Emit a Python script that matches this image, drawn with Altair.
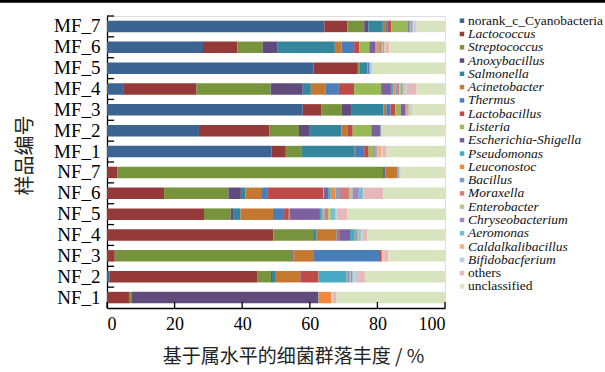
import altair as alt
import pandas as pd

# Samples, top to bottom
samples = ["MF_7", "MF_6", "MF_5", "MF_4", "MF_3", "MF_2", "MF_1",
           "NF_7", "NF_6", "NF_5", "NF_4", "NF_3", "NF_2", "NF_1"]

# Genera in stacking / legend order
genera = ["norank_c_Cyanobacteria", "Lactococcus", "Streptococcus", "Anoxybacillus",
          "Salmonella", "Acinetobacter", "Thermus", "Lactobacillus", "Listeria",
          "Escherichia-Shigella", "Pseudomonas", "Leuconostoc", "Bacillus", "Moraxella",
          "Enterobacter", "Chryseobacterium", "Aeromonas", "Caldalkalibacillus",
          "Bifidobacferium", "others", "unclassified"]

upright_names = ["norank_c_Cyanobacteria", "others", "unclassified"]

colors = ["#3B6493", "#953A38", "#77933C", "#604B7C", "#34869C", "#C5782F",
          "#4A7EBB", "#BE4B48", "#98B954", "#7D60A0", "#46AAC5", "#F08A3A",
          "#7E9FD0", "#D07F7D", "#B0CB84", "#9F8BBF", "#6FC1D6", "#F8B07C",
          "#B9CBE5", "#E6B9B8", "#D7E4BD"]

# Relative abundance (%) per sample, same order as `genera`
mf_7 = [64.3, 6.8, 5.0, 1.2, 4.3, 0.7, 0.6, 1.2, 5.0, 0.4, 0.2, 0.1, 0.4, 0.1, 0.1, 0.1, 0.1, 0.1, 0.5, 0.4, 8.4]
mf_6 = [28.4, 10.2, 7.4, 4.5, 16.9, 2.0, 3.7, 1.5, 3.0, 1.8, 0.3, 0.7, 0.4, 0.5, 0.3, 0.3, 0.2, 0.2, 0.2, 1.0, 16.5]
mf_5 = [61.1, 13.1, 0.5, 0.1, 2.2, 0.1, 0.4, 0.1, 0.1, 0.0, 0.1, 0.0, 0.0, 0.0, 0.0, 0.0, 0.0, 0.0, 0.3, 0.4, 21.5]
mf_4 = [5.0, 21.5, 21.9, 9.5, 2.4, 4.3, 4.0, 4.5, 8.0, 2.9, 0.7, 0.6, 0.8, 0.4, 0.5, 0.4, 0.4, 0.3, 0.6, 2.9, 8.4]
mf_3 = [57.9, 5.6, 6.0, 2.7, 9.6, 0.8, 1.3, 1.4, 1.6, 1.4, 0.2, 0.2, 0.2, 0.2, 0.2, 0.1, 0.1, 0.2, 0.2, 0.3, 9.8]
mf_2 = [27.2, 20.9, 8.7, 3.2, 9.3, 1.7, 0.2, 1.5, 5.5, 2.6, 0.2, 0.1, 0.1, 0.0, 0.0, 0.0, 0.0, 0.0, 0.2, 0.1, 18.5]
mf_1 = [48.7, 4.2, 4.5, 0.1, 15.8, 0.1, 2.7, 1.3, 1.7, 0.2, 0.2, 0.1, 0.2, 0.1, 0.1, 0.1, 0.1, 1.0, 0.3, 1.2, 17.3]
nf_7 = [0.0, 3.0, 78.7, 0.5, 0.1, 3.5, 0.1, 0.1, 0.1, 0.1, 0.3, 0.0, 0.0, 0.0, 0.0, 0.0, 0.0, 0.0, 0.2, 0.2, 13.1]
nf_6 = [0.0, 16.9, 19.0, 3.7, 1.4, 4.6, 1.8, 16.6, 0.2, 1.2, 0.8, 1.4, 1.0, 3.0, 1.0, 1.9, 1.2, 0.2, 0.1, 5.7, 18.3]
nf_5 = [0.0, 28.7, 7.9, 0.7, 2.2, 9.6, 3.3, 1.4, 0.2, 9.0, 0.8, 0.3, 0.3, 1.0, 0.9, 0.3, 1.0, 0.2, 0.2, 3.0, 29.0]
nf_4 = [0.0, 49.2, 11.8, 0.2, 0.8, 5.9, 0.2, 0.5, 0.1, 3.2, 1.4, 0.4, 0.4, 0.3, 0.2, 0.2, 0.3, 0.2, 0.4, 1.4, 22.9]
nf_3 = [0.0, 2.3, 52.5, 0.3, 0.1, 5.8, 19.5, 0.7, 0.1, 0.1, 0.0, 0.0, 0.0, 0.1, 0.0, 0.0, 0.0, 0.3, 0.2, 1.2, 16.8]
nf_2 = [0.8, 43.6, 4.1, 0.3, 0.9, 7.4, 0.1, 5.3, 0.1, 0.1, 8.2, 0.4, 0.4, 0.2, 0.2, 0.5, 0.3, 0.3, 1.1, 2.0, 23.7]
nf_1 = [0.0, 6.5, 0.9, 55.1, 0.1, 0.0, 0.0, 0.0, 0.0, 0.0, 0.0, 3.8, 0.0, 0.0, 0.0, 0.0, 0.0, 0.0, 0.3, 1.2, 32.1]

x_ticks = [0, 20, 40, 60, 80, 100]

by_sample = {"MF_7": mf_7, "MF_6": mf_6, "MF_5": mf_5, "MF_4": mf_4, "MF_3": mf_3,
             "MF_2": mf_2, "MF_1": mf_1, "NF_7": nf_7, "NF_6": nf_6, "NF_5": nf_5,
             "NF_4": nf_4, "NF_3": nf_3, "NF_2": nf_2, "NF_1": nf_1}

records = []
for s in samples:
    for i, g in enumerate(genera):
        records.append({"sample": s, "genus": g, "idx": i, "value": by_sample[s][i]})
df = pd.DataFrame(records)

legend_df = pd.DataFrame({"genus": genera, "upright": [g in upright_names for g in genera]})
ticks_df = pd.DataFrame({"t": x_ticks})
# upper edge of each sample's band, counted in bands from the bottom
n = len(samples)
bounds_df = pd.DataFrame({"b": [n - k for k in range(n)]})

SERIF = "Liberation Serif"
CJK = "Noto Sans CJK SC"
W, H = 338, 292

x_scale = alt.Scale(domain=[0, 100], nice=False)
x_axis = alt.Axis(values=x_ticks, ticks=False, grid=False,
                  labelFont=SERIF, labelFontSize=18, labelColor="black",
                  labelPadding=7, domainColor="black", domainWidth=1.3,
                  title="基于属水平的细菌群落丰度 / %",
                  titleFont=CJK, titleFontSize=19, titleFontWeight="normal",
                  titleColor="#222", titleX=186, titleY=48,
                  titleAlign="center", titleBaseline="middle")

bars = alt.Chart(df).mark_bar().encode(
    x=alt.X("value:Q", stack="zero", scale=x_scale, axis=x_axis),
    y=alt.Y("sample:N", sort=samples,
            scale=alt.Scale(paddingInner=0.45, paddingOuter=0.225),
            axis=alt.Axis(ticks=False, grid=False, labelFont=SERIF, labelFontSize=19,
                          labelColor="black", labelPadding=7, domainColor="black",
                          domainWidth=1.3, title="样品编号", titleFont=CJK,
                          titleFontSize=20, titleFontWeight="normal", titleColor="#222",
                          titleAngle=270, titleX=-82, titleY=139,
                          titleAlign="center", titleBaseline="middle")),
    color=alt.Color("genus:N", scale=alt.Scale(domain=genera, range=colors), legend=None),
    order=alt.Order("idx:Q", sort="ascending"),
)

# inward ticks on the category axis, at band boundaries
y_ticks = alt.Chart(bounds_df).mark_rule(color="black", strokeWidth=1.3).encode(
    y=alt.Y("b:Q", scale=alt.Scale(domain=[0, n], nice=False, zero=True), axis=None),
    x=alt.datum(0), x2=alt.datum(2.1),
)

# inward ticks on the value axis
x_tick_marks = alt.Chart(ticks_df).mark_rule(color="black", strokeWidth=1.3).encode(
    x=alt.X("t:Q", scale=x_scale, axis=x_axis),
    y=alt.value(H), y2=alt.value(H - 6),
)

legend_y = alt.Y("genus:N", sort=genera,
                 scale=alt.Scale(type="point", domain=genera, range=[4.7, 270.4], padding=0),
                 axis=None)

legend_marks = alt.Chart(legend_df).mark_square(size=20, opacity=1).encode(
    x=alt.value(355), y=legend_y,
    color=alt.Color("genus:N", scale=alt.Scale(domain=genera, range=colors), legend=None),
)

legend_italic = alt.Chart(legend_df).transform_filter("!datum.upright").mark_text(
    align="left", baseline="middle", font=SERIF, fontSize=13.5, fontStyle="italic",
    color="#111").encode(x=alt.value(361), y=legend_y, text="genus:N")

legend_plain = alt.Chart(legend_df).transform_filter("datum.upright").mark_text(
    align="left", baseline="middle", font=SERIF, fontSize=13.5,
    color="#111").encode(x=alt.value(361), y=legend_y, text="genus:N")

# heavy rule across the top edge of the figure
top_rule = alt.Chart(ticks_df.head(1)).mark_rule(color="black", strokeWidth=2.7).encode(
    x=alt.datum(-31.8), x2=alt.datum(147.5), y=alt.value(-14.7),
)

chart = alt.layer(
    bars, x_tick_marks, y_ticks, legend_marks, legend_italic, legend_plain, top_rule
).resolve_scale(
    y="independent", color="independent"
).properties(
    width=W, height=H,
    autosize=alt.AutoSizeParams(type="none"),
    padding={"left": 107, "top": 16, "right": 605 - 107 - W, "bottom": 372 - 16 - H},
).configure_view(stroke=None).configure(background="white")

chart.save("out.html", embed_options={"renderer": "svg", "actions": False})
